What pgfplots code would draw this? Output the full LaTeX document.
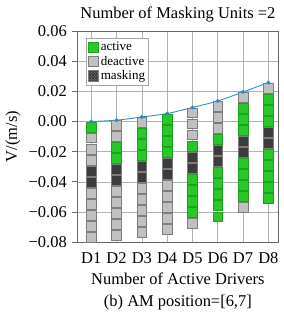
\documentclass[border=0pt]{standalone}
\usepackage{fontspec}
\setmainfont{Liberation Serif}
\usepackage{pgfplots}
\pgfplotsset{compat=1.18}
\usetikzlibrary{patterns}
\definecolor{actgreen}{RGB}{40,200,40}
\definecolor{deagray}{RGB}{192,192,192}
\definecolor{edgegray}{RGB}{125,125,125}
\definecolor{maskdark}{RGB}{60,60,60}
\definecolor{lineblue}{RGB}{45,140,205}
\begin{document}
\fontsize{17}{20}\selectfont
\begin{tikzpicture}
\begin{axis}[
  scale only axis,
  width=207.6pt, height=218pt,
  xmin=0.45, xmax=8.4,
  ymin=-0.08, ymax=0.06,
  scaled y ticks=false,
  xtick={1,2,3,4,5,6,7,8},
  xticklabels={D1,D2,D3,D4,D5,D6,D7,D8},
  ytick={-0.08,-0.06,-0.04,-0.02,0,0.02,0.04,0.06},
  yticklabels={−0.08,−0.06,−0.04,−0.02,0.00,0.02,0.04,0.06},
  grid=major,
  grid style={gray!60, line width=0.6pt},
  axis line style={gray!80!black, line width=0.8pt},
  tick align=outside,
  tick pos=left,
  major tick length=5pt,
  tick style={gray!80!black, line width=0.8pt},
  xtick style={draw=none},
  title={Number of Masking Units =2},
  title style={yshift=-3pt},
  xlabel={Number of Active Drivers\\[2pt](b) AM position=[6,7]},
  xlabel style={align=center, yshift=2pt},
  ylabel={V/(m/s)},
  ylabel style={yshift=-3pt},
  legend style={at={(0.045,0.965)}, anchor=north west, font=\fontsize{13.5}{14}\selectfont,
    draw=gray!70, line width=0.6pt, inner xsep=1pt, inner ysep=1.5pt,
    row sep=-1pt},
  legend cell align=left,
  legend image code/.code={\draw[#1, line width=0.6pt] (0pt,-5pt) rectangle (11pt,6pt);},
]
% active units
\addplot[only marks, mark=square*, mark size=5pt,
  mark options={fill=actgreen, draw=actgreen!80!black, line width=0.6pt},
  fill=actgreen, draw=actgreen!80!black]
coordinates {
 (1,-0.00365)
 (2,-0.01725) (2,-0.02455)
 (3,-0.00795) (3,-0.01525) (3,-0.02255)
 (4,0.00165) (4,-0.00565) (4,-0.01295) (4,-0.02025)
 (5,-0.01625) (5,-0.03815) (5,-0.04545) (5,-0.05275) (5,-0.06005)
 (6,-0.01195) (6,-0.03385) (6,-0.04115) (6,-0.04845) (6,-0.05575) (6,-0.06305)
 (7,0.00865) (7,0.00135) (7,-0.00595) (7,-0.02785) (7,-0.03515) (7,-0.04245) (7,-0.04975)
 (8,0.01485) (8,0.00755) (8,0.00025) (8,-0.02165) (8,-0.02895) (8,-0.03625) (8,-0.04355) (8,-0.05085)
};
\addlegendentry{active}
% deactive units
\addplot[only marks, mark=square*, mark size=5pt,
  mark options={fill=deagray, draw=edgegray, line width=0.8pt},
  fill=deagray, draw=edgegray]
coordinates {
 (1,-0.01095) (1,-0.01825) (1,-0.02555) (1,-0.04745) (1,-0.05475) (1,-0.06205) (1,-0.06935) (1,-0.07665)
 (2,-0.00265) (2,-0.00995) (2,-0.04645) (2,-0.05375) (2,-0.06105) (2,-0.06835) (2,-0.07565)
 (3,-0.00065) (3,-0.04445) (3,-0.05175) (3,-0.05905) (3,-0.06635) (3,-0.07365)
 (4,-0.04215) (4,-0.04945) (4,-0.05675) (4,-0.06405) (4,-0.07135)
 (5,0.00565) (5,-0.00165) (5,-0.00895) (5,-0.06735)
 (6,0.00995) (6,0.00265) (6,-0.00465)
 (7,0.01595) (7,-0.05705)
 (8,0.02215)
};
\addlegendentry{deactive}
% masking units
\addplot[only marks, mark=square*, mark size=5pt,
  mark options={fill=maskdark, draw=edgegray, line width=0.6pt,
    postaction={pattern=crosshatch dots, pattern color=gray!75}},
  fill=maskdark, draw=edgegray, postaction={pattern=crosshatch dots, pattern color=gray!75}]
coordinates {
 (1,-0.03285) (1,-0.04015)
 (2,-0.03185) (2,-0.03915)
 (3,-0.02985) (3,-0.03715)
 (4,-0.02755) (4,-0.03485)
 (5,-0.02355) (5,-0.03085)
 (6,-0.01925) (6,-0.02655)
 (7,-0.01325) (7,-0.02055)
 (8,-0.00705) (8,-0.01435)
};
\addlegendentry{masking}
% velocity line
\addplot[lineblue, line width=0.9pt, smooth, mark=*, mark size=1.6pt,
  mark options={fill=lineblue, draw=lineblue}, forget plot]
coordinates {
 (1,0.0000) (2,0.0009) (3,0.0030) (4,0.0053) (5,0.0093) (6,0.0136) (7,0.0196) (8,0.0258)
};
\end{axis}
\path (current axis.south west) ++(-71.7pt,-65pt) coordinate (bbA);
\path (current axis.north east) ++(5.7pt,32pt) coordinate (bbB);
\path (bbA) rectangle (bbB);
\end{tikzpicture}
\end{document}
